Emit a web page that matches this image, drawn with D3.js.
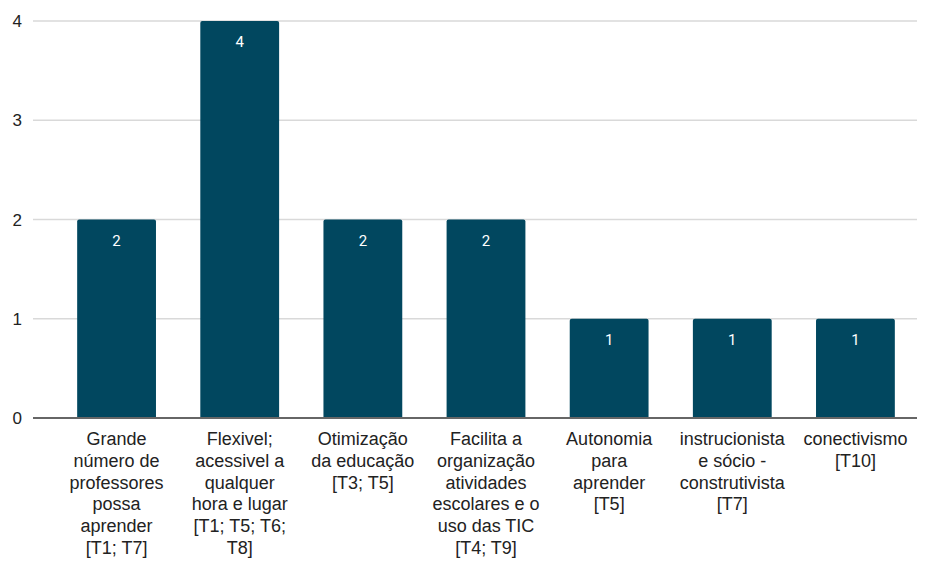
<!DOCTYPE html>
<html>
<head>
<meta charset="utf-8">
<script src="https://cdn.jsdelivr.net/npm/d3@7"></script>
<style>
  body { margin: 0; background: #fff; }
  svg { display: block; }
</style>
</head>
<body>
<svg id="chart" width="929" height="561"></svg>
<script>
// categories, each as its wrapped lines
const categories = [
    ["Grande", "número de", "professores", "possa", "aprender", "[T1; T7]"],
    ["Flexivel;", "acessivel a", "qualquer", "hora e lugar", "[T1; T5; T6;", "T8]"],
    ["Otimização", "da educação", "[T3; T5]"],
    ["Facilita a", "organização", "atividades", "escolares e o", "uso das TIC", "[T4; T9]"],
    ["Autonomia", "para", "aprender", "[T5]"],
    ["instrucionista", "e sócio -", "construtivista", "[T7]"],
    ["conectivismo", "[T10]"]
];
const values = [2, 4, 2, 2, 1, 1, 1];
const yTicks = [0, 1, 2, 3, 4];

const svg = d3.select("#chart");
const gridLeft = 33, plotRight = 917, plotTop = 21, plotBottom = 418;

const x = d3.scaleBand()
    .domain(d3.range(categories.length))
    .range([55, plotRight])
    .paddingInner(0.36)
    .paddingOuter(0.18);

const y = d3.scaleLinear()
    .domain([0, 4])
    .range([plotBottom, plotTop]);

// gridlines
svg.append("g")
    .selectAll("line")
    .data(yTicks.filter(d => d > 0))
    .enter().append("line")
    .attr("x1", gridLeft)
    .attr("x2", plotRight)
    .attr("y1", d => y(d))
    .attr("y2", d => y(d))
    .attr("stroke", "#d9d9d9")
    .attr("stroke-width", 1.5);

// y tick labels
svg.append("g")
    .selectAll("text")
    .data(yTicks)
    .enter().append("text")
    .attr("x", 22)
    .attr("y", d => y(d))
    .attr("dy", "0.36em")
    .attr("text-anchor", "end")
    .style("font-family", "'Liberation Sans', Arial, sans-serif")
    .style("font-size", "17px")
    .attr("fill", "#222")
    .text(d => d);

// bars
svg.append("g")
    .selectAll("path")
    .data(values)
    .enter().append("path")
    .attr("fill", "#01475f")
    .attr("d", (d, i) => {
        const x0 = x(i), w = x.bandwidth(), y0 = y(d), r = 2;
        return `M${x0},${plotBottom}V${y0 + r}Q${x0},${y0} ${x0 + r},${y0}` +
            `H${x0 + w - r}Q${x0 + w},${y0} ${x0 + w},${y0 + r}V${plotBottom}Z`;
    });

// value labels
svg.append("g")
    .selectAll("text")
    .data(values)
    .enter().append("text")
    .attr("x", (d, i) => x(i) + x.bandwidth() / 2)
    .attr("y", d => y(d) + 26)
    .attr("text-anchor", "middle")
    .style("font-family", "Roboto, sans-serif")
    .style("font-size", "15px")
    .attr("fill", "#fff")
    .text(d => d);

// baseline
svg.append("line")
    .attr("x1", gridLeft)
    .attr("x2", plotRight)
    .attr("y1", y(0))
    .attr("y2", y(0))
    .attr("stroke", "#666")
    .attr("stroke-width", 2);

// x labels
const lab = svg.append("g")
    .selectAll("text")
    .data(categories)
    .enter().append("text")
    .attr("x", (d, i) => x(i) + x.bandwidth() / 2)
    .attr("y", 445)
    .attr("text-anchor", "middle")
    .style("font-family", "'Liberation Sans', Arial, sans-serif")
    .style("font-size", "18px")
    .attr("fill", "#222");

lab.selectAll("tspan")
    .data((d, i) => d.map(t => ({t, i})))
    .enter().append("tspan")
    .attr("x", d => x(d.i) + x.bandwidth() / 2)
    .attr("dy", (d, j) => j === 0 ? 0 : 21.8)
    .text(d => d.t);
</script>
</body>
</html>
